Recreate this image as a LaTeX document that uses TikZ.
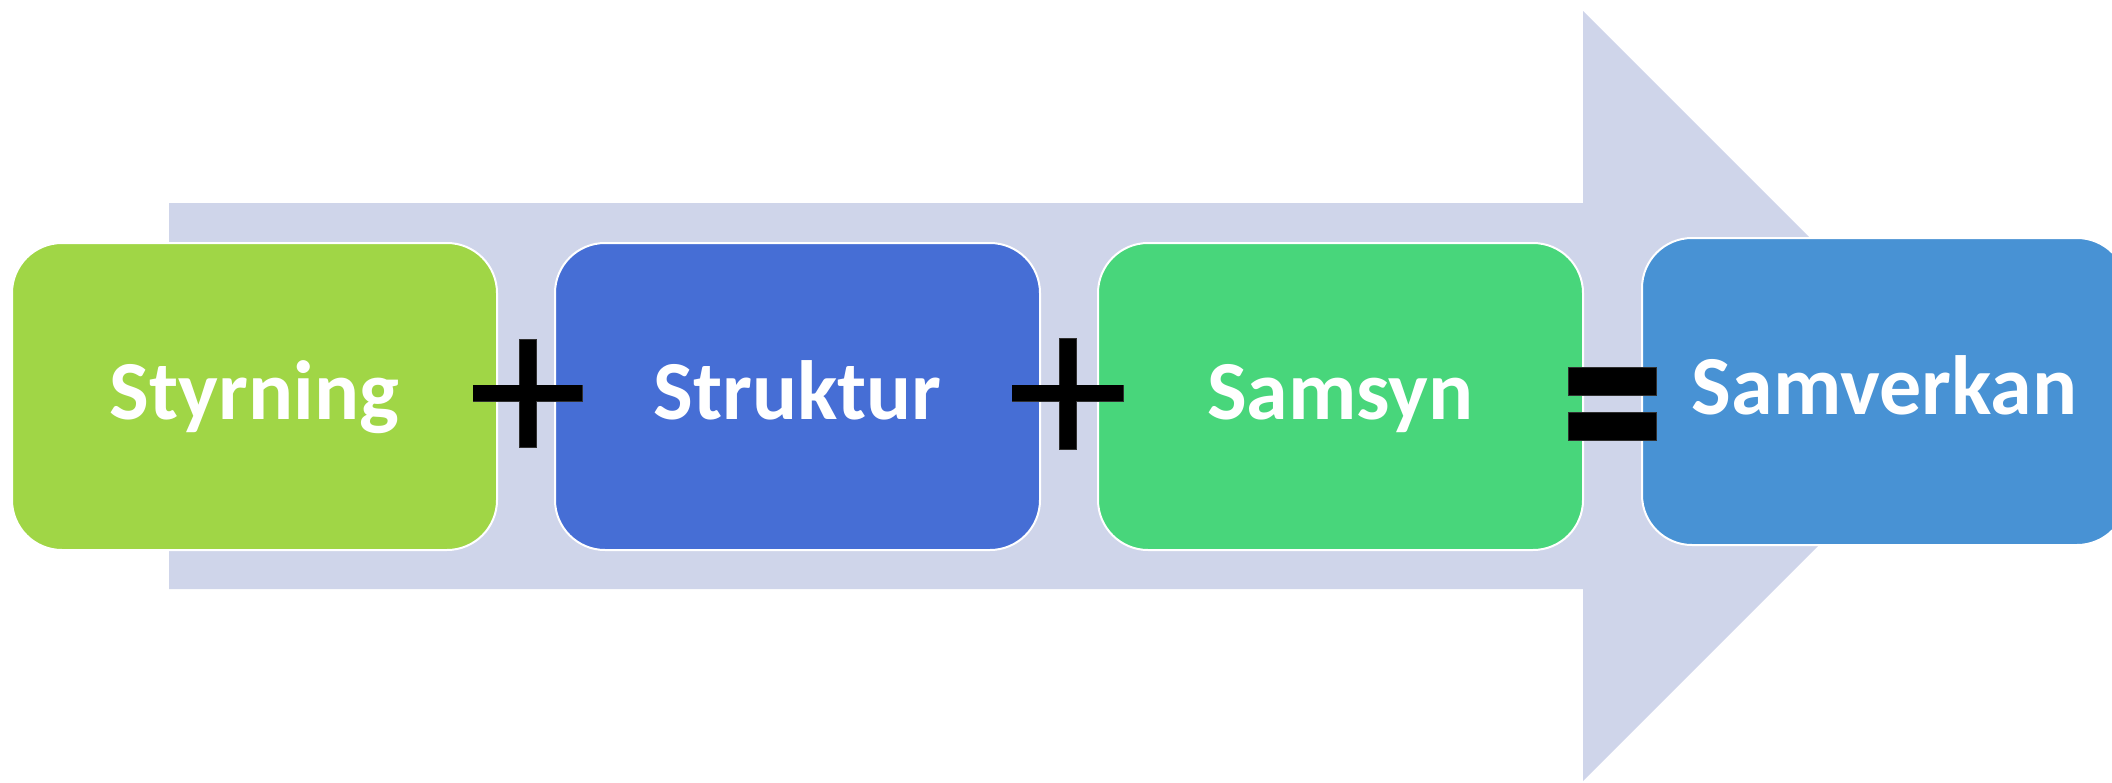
\documentclass[tikz,border=0pt]{standalone}
\usepackage{fontspec}
\setmainfont{Carlito}
\definecolor{arrowfill}{HTML}{CFD5EA}
\definecolor{cA}{HTML}{A0D646}
\definecolor{cB}{HTML}{466ED5}
\definecolor{cC}{HTML}{48D67B}
\definecolor{cD}{HTML}{4892D4}
\definecolor{signedge}{HTML}{303030}
\tikzset{
  stage/.style={draw=white, line width=2pt, rounded corners=50pt,
    minimum width=485pt, minimum height=307pt, inner sep=0pt,
    text=white, font=\fontsize{84}{100}\selectfont\bfseries,
    text height=60pt, text depth=15pt},
  signbar/.style={fill=black, draw=signedge, line width=0.6pt}
}
\begin{document}
\begin{tikzpicture}[x=1pt,y=-1pt]
\useasboundingbox (0,0) rectangle (2112,782);
\clip (0,0) rectangle (2112,782);
% big background arrow
\fill[arrowfill] (169,203) -- (1583,203) -- (1583,11) -- (1968,396)
  -- (1583,781) -- (1583,589) -- (169,589) -- cycle;
% stages
\node[stage, fill=cA] (s1) at (254.5,396.5) {Styrning};
\node[stage, fill=cB] (s2) at (797.5,396.5) {Struktur};
\node[stage, fill=cC] (s3) at (1340.5,396.5) {Samsyn};
\node[stage, fill=cD] (s4) at (1884.5,391.5) {Samverkan};
% plus signs
\filldraw[signbar] (473,385) rectangle (582,401);
\filldraw[signbar] (519,339) rectangle (536,447);
\fill[black] (473.3,385.3) rectangle (581.7,400.7);
\filldraw[signbar] (1012,385) rectangle (1123,401);
\filldraw[signbar] (1059,338) rectangle (1076,449);
\fill[black] (1012.3,385.3) rectangle (1122.7,400.7);
% equals sign
\filldraw[signbar] (1568,367) rectangle (1656,395);
\filldraw[signbar] (1568,412) rectangle (1656,440);
\end{tikzpicture}
\end{document}
